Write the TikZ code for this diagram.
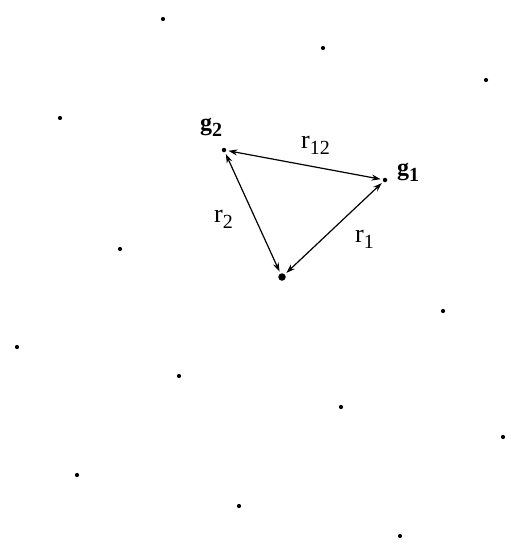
\documentclass[tikz,border=0pt]{standalone}
\usepackage{fontspec}
\setmainfont{Liberation Serif}
\usetikzlibrary{arrows.meta}
\newcommand{\myrlet}{\fontsize{26}{28}\selectfont r}
\newcommand{\myglet}{\fontsize{24}{26}\selectfont\bfseries g}
\newcommand{\mysubs}[1]{\raisebox{-6pt}{\fontsize{20}{22}\selectfont #1}}
\begin{document}
\begin{tikzpicture}[x=1pt,y=-1pt,
  pt/.style={circle,fill=black,inner sep=0pt,minimum size=4.2pt},
  bigpt/.style={circle,fill=black,inner sep=0pt,minimum size=7.5pt},
  gpt/.style={circle,fill=black,inner sep=0pt,minimum size=4.5pt},
  lbl/.style={inner sep=0pt,anchor=base west},
  link/.style={{Stealth[length=9pt,width=6pt]}-{Stealth[length=9pt,width=6pt]},line width=1.2pt,shorten <=2pt,shorten >=2pt}]
\useasboundingbox (0,0) rectangle (511,546);
\node[pt] (d1) at (163,19) {};
\node[pt] (d2) at (323,48) {};
\node[pt] (d3) at (486,80) {};
\node[pt] (d4) at (60,118) {};
\node[pt] (d5) at (120,249) {};
\node[pt] (d6) at (17,347) {};
\node[pt] (d7) at (179,376) {};
\node[pt] (d8) at (443,311) {};
\node[pt] (d9) at (341,407) {};
\node[pt] (d10) at (503,437) {};
\node[pt] (d11) at (77,475) {};
\node[pt] (d12) at (239,506) {};
\node[pt] (d13) at (400,536) {};
\node[gpt] (g2) at (224,150) {};
\node[gpt] (g1) at (385,180) {};
\node[bigpt] (c) at (282,277) {};
\draw[link] (g2) -- (g1);
\draw[link] (g2) -- (c);
\draw[link] (g1) -- (c);
\node[lbl] (lg2) at (200,130) {\myglet\mysubs{\bfseries 2}};
\node[lbl] (lg1) at (397,175) {\myglet\mysubs{\bfseries 1}};
\node[lbl] (lr12) at (301,148) {\myrlet\mysubs{12}};
\node[lbl] (lr2) at (214,222) {\myrlet\mysubs{2}};
\node[lbl] (lr1) at (355,242) {\myrlet\mysubs{1}};
\end{tikzpicture}
\end{document}
